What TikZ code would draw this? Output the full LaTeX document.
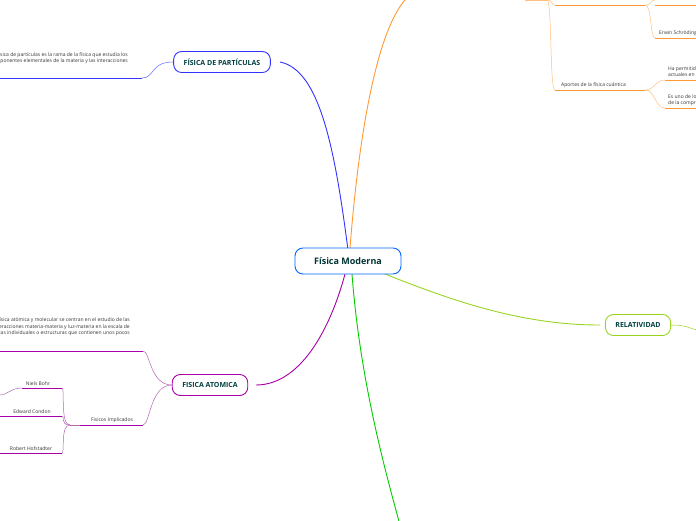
\documentclass[tikz,border=0pt]{standalone}
\usepackage{fontspec}
\setmainfont{Open Sans}
\tikzset{
    x=1pt, y=-1pt,
    topic/.style = {
        draw, rounded corners=8pt, line width=0.9pt, fill=white,
        font=\fontsize{7}{8}\selectfont\bfseries, text=teal!50!black,
        minimum height=21pt, inner xsep=10pt,
        },
    leaf/.style = {
        font=\fontsize{5}{6.5}\selectfont, text=black!80, inner sep=1pt,
        },
    branch/.style = {
        line width=0.9pt,
        },
    twig/.style = {
        line width=0.5pt,
        },
}
\begin{document}
\begin{tikzpicture}
    \useasboundingbox (0,0) rectangle (696,520);
    \clip (0,0) rectangle (696,520);

    % main branches
    \draw[branch, blue!80] (348,250) .. controls (335,150) and (320,70) .. (280,62);
    \draw[branch, orange!80] (350,248) .. controls (360,120) and (380,20) .. (410,-5);
    \draw[branch, yellow!60!green] (380,272) .. controls (450,300) and (520,325) .. (600,325);
    \draw[branch, violet!70!magenta] (345,274) .. controls (330,330) and (300,385) .. (256,385);
    \draw[branch, green!80!black] (352,274) .. controls (360,380) and (385,470) .. (400,525);

    \node[topic, draw=blue!60!cyan, text=teal!40!black, font=\fontsize{9}{10}\selectfont\bfseries,
        minimum width=106pt, minimum height=26pt] (main) at (348,261) {Física Moderna};
    \node[topic, draw=blue!80] (part) at (222,62) {FÍSICA DE PARTÍCULAS};
    \node[topic, draw=yellow!60!green] (rel) at (638,325) {RELATIVIDAD};
    \node[topic, draw=violet!70!magenta] (atom) at (210,385) {FISICA ATOMICA};

    % particulas
    \draw[twig, blue!60] (part.west) .. controls (150,62) and (155,78) .. (142,78);
    \draw[branch, blue!80] (142,78) -- (0,78);
    \node[leaf, anchor=east, align=right] (ptext) at (129,58)
        {La física de partículas es la rama de la física que estudia los\\componentes elementales de la materia y las interacciones};

    % relatividad
    \draw[twig, yellow!60!green] (rel.east) .. controls (690,325) and (690,330) .. (700,330);

    % atomica
    \draw[twig, violet!60] (atom.west) .. controls (150,385) and (150,351) .. (143,351);
    \draw[branch, violet!70!magenta] (143,351) -- (0,351);
    \node[leaf, anchor=east, align=right] (atext) at (131,327)
        {La física atómica y molecular se centran en el estudio de las\\interacciones materia-materia y luz-materia en la escala de\\moléculas individuales o estructuras que contienen unos pocos};
    \draw[twig, violet!60] (atom.west) .. controls (150,385) and (150,425) .. (143,425);
    \draw[branch, violet!70!magenta] (143,425) -- (80,425);
    \node[leaf, anchor=south] (fis) at (112,424) {Fisicos Implicados};
    \coordinate (fj) at (70,425);
    \draw[twig, violet!60] (80,425) -- (fj);
    \draw[twig, violet!60] (fj) .. controls (60,425) and (65,388) .. (62,388);
    \draw[twig, violet!60] (fj) .. controls (60,425) and (65,416) .. (62,416);
    \draw[twig, violet!60] (fj) .. controls (60,425) and (65,453) .. (62,453);
    \draw[branch, violet!70!magenta] (62,388) -- (22,388);
    \draw[twig, violet!60] (22,388) .. controls (10,388) and (8,395) .. (0,395);
    \draw[branch, violet!70!magenta] (62,416) -- (0,416);
    \draw[branch, violet!70!magenta] (62,453) -- (0,453);
    \node[leaf, anchor=south] (bohr) at (38,387) {Niels Bohr};
    \node[leaf, anchor=south] (condon) at (32,415) {Edward Condon};
    \node[leaf, anchor=south] (hof) at (31,452) {Robert Hofstadter};

    % cuantica
    \coordinate (qj) at (548,0);
    \draw[twig, orange!50] (525,0) -- (qj);
    \draw[twig, orange!50] (qj) .. controls (552,0) and (552,5) .. (555,5);
    \draw[twig, orange!50] (qj) .. controls (552,20) and (550,90) .. (555,90);
    \draw[branch, orange!80] (555,5) -- (645,5);
    \draw[branch, orange!80] (555,90) -- (645,90);
    \node[leaf, anchor=south west] (apor) at (560,89) {Aportes de la física cuántica};
    \draw[twig, orange!50] (645,5) .. controls (652,5) and (650,0) .. (655,0);
    \draw[twig, orange!50] (645,5) .. controls (652,5) and (650,38) .. (655,38);
    \draw[branch, orange!80] (655,5) -- (696,5);
    \draw[branch, orange!80] (655,38) -- (696,38);
    \node[leaf, anchor=south west] (erwin) at (658,37) {Erwin Schrödinger};
    \draw[twig, orange!50] (645,90) .. controls (655,90) and (655,80) .. (665,80);
    \draw[twig, orange!50] (645,90) .. controls (655,90) and (655,108) .. (665,108);
    \draw[branch, orange!80] (665,80) -- (696,80);
    \draw[branch, orange!80] (665,108) -- (696,108);
    \node[leaf, anchor=south west, align=left] (ha) at (667,79) {Ha permitido los avances\\actuales en tecnología};
    \node[leaf, anchor=south west, align=left] (es) at (667,107) {Es uno de los pilares\\de la comprensión};
\end{tikzpicture}
\end{document}
